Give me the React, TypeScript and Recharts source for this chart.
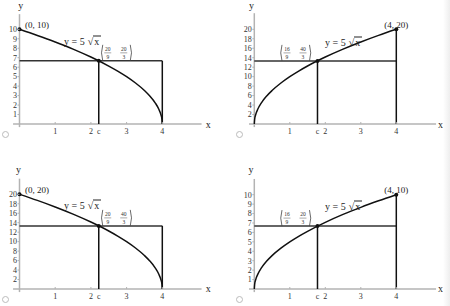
import React from "react";
import { ComposedChart, Line, XAxis, YAxis, ReferenceLine, ReferenceDot } from "recharts";

// curve samples
const riseX = [0, 0.01, 0.04, 0.1, 0.2, 0.35, 0.5, 0.75, 1, 1.25, 1.5, 2, 2.5, 3, 3.5, 4];
const riseLow = [0, 0.5, 1, 1.58, 2.24, 2.96, 3.54, 4.33, 5, 5.59, 6.12, 7.07, 7.91, 8.66, 9.35, 10];
const riseHigh = [0, 1, 2, 3.16, 4.47, 5.92, 7.07, 8.66, 10, 11.18, 12.25, 14.14, 15.81, 17.32, 18.71, 20];
const fallX = [0, 0.5, 1, 1.5, 2, 2.5, 2.75, 3, 3.25, 3.5, 3.65, 3.8, 3.9, 3.96, 3.99, 4];
const fallLow = [10, 9.35, 8.66, 7.91, 7.07, 6.12, 5.59, 5, 4.33, 3.54, 2.96, 2.24, 1.58, 1, 0.5, 0];
const fallHigh = [20, 18.71, 17.32, 15.81, 14.14, 12.25, 11.18, 10, 8.66, 7.07, 5.92, 4.47, 3.16, 2, 1, 0];

const curveX = [fallX, riseX, fallX, riseX];
const curveY = [fallLow, riseHigh, fallHigh, riseLow];

const cValues = [2.22, 1.78, 2.22, 1.78];
const rectHeights = [6.67, 13.33, 13.33, 6.67];
const rightTops = [6.67, 20, 13.33, 10];
const endX = [0, 4, 0, 4];
const endY = [10, 20, 20, 10];
const endLabels = ["(0, 10)", "(4, 20)", "(0, 20)", "(4, 10)"];
const fracNums = [["20", "20"], ["16", "40"], ["20", "40"], ["16", "20"]];
const fracDens = [["9", "3"], ["9", "3"], ["9", "3"], ["9", "3"]];

const xTicks = [1, 2, 3, 4];
const yTicksLow = [1, 2, 3, 4, 5, 6, 7, 8, 9, 10];
const yTicksHigh = [2, 4, 6, 8, 10, 12, 14, 16, 18, 20];
const yTickSets = [yTicksLow, yTicksHigh, yTicksHigh, yTicksLow];

const FONT = "'Liberation Serif', 'DejaVu Serif', serif";
const AXIS = "#b3b3b3";
const INK = "#111";

// pixel layout of each panel (panel-local)
const layout = [
  { left: 0, top: 0, ox: 19.5, oy: 124, sx: 35.7, sy: 9.47, xMin: -0.18, xMax: 5.1, yMin: -0.33, yMax: 11.6, side: "right", eq: [64, 40.7], yName: [20.7, 6], xName: [208.3, 124.7], radio: [5.3, 134.3] },
  { left: 225, top: 0, ox: 29.3, oy: 124, sx: 35.5, sy: 4.735, xMin: -0.15, xMax: 5.12, yMin: -0.65, yMax: 23.4, side: "left", eq: [100, 41.7], yName: [26.5, 5.5], xName: [215.5, 125], radio: [14, 134.3] },
  { left: 0, top: 153, ox: 19.5, oy: 136, sx: 35.7, sy: 4.735, xMin: -0.18, xMax: 5.1, yMin: -0.65, yMax: 23.3, side: "right", eq: [64, 52.3], yName: [18.5, 17.3], xName: [208.3, 136], radio: [5.3, 145.7] },
  { left: 225, top: 153, ox: 29.3, oy: 136, sx: 35.5, sy: 9.43, xMin: -0.15, xMax: 5.12, yMin: -0.33, yMax: 11.67, side: "left", eq: [100, 52.7], yName: [26, 17.3], xName: [215.5, 136.3], radio: [14, 145.7] },
];

const CH_W = 225;
const CH_H = 170;
const X_AXIS_H = 14;

function XTick(props: any) {
  const { x, payload, oy, c } = props;
  const isC = Math.abs(payload.value - c) < 1e-6;
  return (
    <g>
      {!isC && <line x1={x} x2={x} y1={oy} y2={oy - 2} stroke={AXIS} strokeWidth={1} />}
      <text x={x} y={oy + 10} textAnchor="middle" fontSize={8} fontFamily={FONT} fill="#333">
        {isC ? "c" : payload.value}
      </text>
    </g>
  );
}

function YTick(props: any) {
  const { y, payload, ox } = props;
  return (
    <g>
      <line x1={ox} x2={ox - 2} y1={y} y2={y} stroke={AXIS} strokeWidth={1} />
      <text x={ox - 2.5} y={y + 2.8} textAnchor="end" fontSize={8} fontFamily={FONT} fill="#333">
        {payload.value}
      </text>
    </g>
  );
}

function Paren({ x, top, bottom, flip }: { x: number; top: number; bottom: number; flip?: boolean }) {
  const bow = flip ? 2.5 : -2.5;
  const mid = (top + bottom) / 2;
  return <path d={`M ${x} ${top} Q ${x + bow} ${mid} ${x} ${bottom}`} stroke="#444" strokeWidth={0.8} fill="none" />;
}

function FracDot(props: any) {
  const { cx, cy, nums, dens, side } = props;
  const bx = side === "right" ? cx + 1.5 : cx - 38;
  const fs = 5.5;
  const frac = (fx: number, n: string, d: string) => (
    <g>
      <text x={fx} y={cy - 10} textAnchor="middle" fontSize={fs} fontFamily={FONT} fill="#333">{n}</text>
      <line x1={fx - 3.5} x2={fx + 3.5} y1={cy - 8} y2={cy - 8} stroke="#555" strokeWidth={0.5} />
      <text x={fx} y={cy - 2} textAnchor="middle" fontSize={fs} fontFamily={FONT} fill="#333">{d}</text>
    </g>
  );
  return (
    <g>
      <circle cx={cx} cy={cy} r={2} fill={INK} />
      <Paren x={bx + 2.5} top={cy - 16} bottom={cy} />
      {frac(bx + 7.5, nums[0], dens[0])}
      {frac(bx + 23.5, nums[1], dens[1])}
      <Paren x={bx + 30} top={cy - 16} bottom={cy} flip />
    </g>
  );
}

function EndDot(props: any) {
  const { cx, cy, text, side } = props;
  return (
    <g>
      <circle cx={cx} cy={cy} r={2} fill={INK} />
      {side === "right" ? (
        <text x={cx + 5.5} y={cy - 1.3} fontSize={9} fontFamily={FONT} fill="#222">{text}</text>
      ) : (
        <text x={cx} y={cy - 1.3} textAnchor="middle" fontSize={9} fontFamily={FONT} fill="#222">{text}</text>
      )}
    </g>
  );
}

function Panel({ i }: { i: number }) {
  const L = layout[i];
  const data = curveX[i].map((x, k) => ({ x, y: curveY[i][k] }));
  const plotLeft = L.ox + L.xMin * L.sx;
  const plotW = (L.xMax - L.xMin) * L.sx;
  const plotTop = L.oy - L.yMax * L.sy;
  const plotH = (L.yMax - L.yMin) * L.sy;
  const margin = {
    top: plotTop,
    left: 0,
    right: CH_W - plotLeft - plotW,
    bottom: CH_H - plotTop - plotH - X_AXIS_H,
  };
  const c = cValues[i];
  const h = rectHeights[i];
  const text: React.CSSProperties = { position: "absolute", fontFamily: FONT, color: "#222", whiteSpace: "nowrap", transform: "translate(-50%, -50%)", lineHeight: 1 };

  return (
    <div style={{ position: "absolute", left: L.left, top: L.top, width: CH_W, height: CH_H }}>
      <ComposedChart width={CH_W} height={CH_H} data={data} margin={margin}>
        <XAxis
          dataKey="x"
          type="number"
          domain={[L.xMin, L.xMax]}
          allowDataOverflow
          ticks={[...xTicks, c]}
          interval={0}
          height={X_AXIS_H}
          axisLine={false}
          tickLine={false}
          tickSize={0}
          tick={(p: any) => <XTick {...p} oy={L.oy} c={c} />}
        />
        <YAxis
          type="number"
          domain={[L.yMin, L.yMax]}
          allowDataOverflow
          ticks={yTickSets[i]}
          interval={0}
          width={plotLeft}
          axisLine={false}
          tickLine={false}
          tickSize={0}
          tick={(p: any) => <YTick {...p} ox={L.ox} />}
        />
        <ReferenceLine y={0} stroke={AXIS} strokeWidth={1.5} />
        <ReferenceLine x={0} stroke={AXIS} strokeWidth={1.5} />
        <ReferenceLine segment={[{ x: 0, y: h }, { x: 4, y: h }]} stroke="#333" strokeWidth={1.5} />
        <ReferenceLine segment={[{ x: c, y: 0 }, { x: c, y: h }]} stroke={INK} strokeWidth={1.5} />
        <ReferenceLine segment={[{ x: 4, y: 0 }, { x: 4, y: rightTops[i] }]} stroke={INK} strokeWidth={1.5} />
        <Line
          dataKey="y"
          type="monotone"
          stroke={INK}
          strokeWidth={1.5}
          dot={false}
          isAnimationActive={false}
        />
        <ReferenceDot x={c} y={h} r={2} shape={(p: any) => <FracDot {...p} nums={fracNums[i]} dens={fracDens[i]} side={L.side} />} />
        <ReferenceDot x={endX[i]} y={endY[i]} r={2} shape={(p: any) => <EndDot {...p} text={endLabels[i]} side={L.side} />} />
      </ComposedChart>
      <div style={{ ...text, left: L.yName[0], top: L.yName[1], fontSize: 10 }}>y</div>
      <div style={{ ...text, left: L.xName[0], top: L.xName[1], fontSize: 10 }}>x</div>
      <div style={{ ...text, left: L.eq[0], top: L.eq[1], fontSize: 10, transform: "translate(0, -50%)", display: "flex", alignItems: "flex-end" }}>
        <span>y = 5</span>
        <span style={{ marginLeft: 3, fontSize: 10 }}>√</span>
        <span style={{ borderTop: "0.8px solid #222", paddingLeft: 1, paddingRight: 1.5, lineHeight: 1 }}>x</span>
      </div>
      <div
        style={{
          position: "absolute",
          left: L.radio[0] - 3,
          top: L.radio[1] - 3,
          width: 5,
          height: 5,
          border: "0.8px solid #bbb",
          borderRadius: "50%",
        }}
      />
    </div>
  );
}

export default function App() {
  return (
    <div style={{ position: "absolute", left: 0, top: 0, width: 450, height: 306, background: "#fff", overflow: "hidden" }}>
      {[0, 1, 2, 3].map((i) => (
        <Panel key={i} i={i} />
      ))}
      <div
        style={{
          position: "absolute",
          left: 443,
          top: 0,
          width: 7,
          height: 306,
          background: "linear-gradient(to right, #ffffff, #eeeeee)",
        }}
      />
    </div>
  );
}
